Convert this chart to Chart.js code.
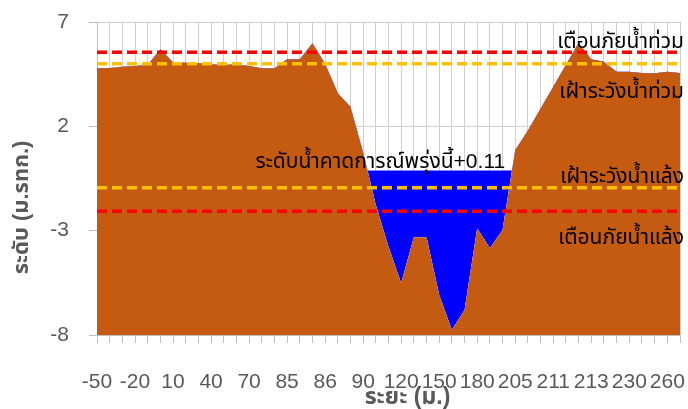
<!DOCTYPE html>
<html><head><meta charset="utf-8">
<script src="https://cdn.jsdelivr.net/npm/chart.js@4/dist/chart.umd.min.js"></script>
<style>html,body{margin:0;padding:0;background:#fff}#wrap{width:688px;height:409px}</style>
</head><body><div id="wrap"><canvas id="c" width="688" height="409"></canvas></div>
<script>
// ---- data ----
const distances = [-50,-40,-30,-20,-10,0,10,20,30,40,50,60,70,75,80,85,85.3,85.6,86,87,88,90,100,110,120,130,140,150,160,170,180,190,200,205,207,209,211,211.5,212,213,220,225,230,240,250,260,270];
const groundLevel = [4.78,4.79,4.86,4.89,4.95,5.69,5.07,5.05,5.02,4.97,4.94,4.97,4.89,4.78,4.78,5.21,5.21,5.98,5.0,3.58,2.94,0.75,-1.77,-3.77,-5.52,-3.32,-3.32,-6.08,-7.76,-6.8,-2.89,-3.84,-2.97,0.87,1.8,2.85,3.9,4.95,6.0,5.21,5.1,4.62,4.62,4.55,4.54,4.62,4.55];
const forecastWaterLevel = -0.12;
const floodWarning = 5.55;
const floodWatch = 5.0;
const droughtWatch = -0.94;
const droughtWarning = -2.07;
const yTicks = [-8,-3,2,7];
const labelEvery = 3;
const textFloodWarning = 'เตือนภัยน้ำท่วม';
const textFloodWatch = 'เฝ้าระวังน้ำท่วม';
const textDroughtWatch = 'เฝ้าระวังน้ำแล้ง';
const textDroughtWarning = 'เตือนภัยน้ำแล้ง';
const textForecast = 'ระดับน้ำคาดการณ์พรุ่งนี้+0.11';
const xTitle = 'ระยะ (ม.)';
const yTitle = 'ระดับ (ม.รทก.)';

const FONT = "'Liberation Sans', Arial, 'Noto Sans Thai', 'Noto Sans', sans-serif";
const flat = v => distances.map(() => v);

const textPlugin = {
  id: 'texts',
  afterDatasetsDraw(chart) {
    const ctx = chart.ctx, ca = chart.chartArea;
    const y = chart.scales.y, x = chart.scales.x;
    ctx.save();
    ctx.fillStyle = '#000';
    ctx.font = '21px ' + FONT;
    ctx.textAlign = 'right';
    ctx.textBaseline = 'middle';
    const rx = ca.right + 4;
    ctx.fillText(textFloodWarning, rx, y.getPixelForValue(floodWarning) - 10);
    ctx.fillText(textFloodWatch, rx, y.getPixelForValue(floodWatch) + 28);
    ctx.fillText(textDroughtWatch, rx, y.getPixelForValue(droughtWatch) - 10);
    ctx.fillText(textDroughtWarning, rx, y.getPixelForValue(droughtWarning) + 27);
    ctx.textAlign = 'left';
    ctx.fillText(textForecast, x.getPixelForValue(12.5), y.getPixelForValue(forecastWaterLevel) - 8);
    // axis titles
    ctx.fillStyle = '#595959';
    ctx.font = 'bold 23px ' + FONT;
    ctx.textAlign = 'center';
    ctx.fillText(xTitle, (ca.left + ca.right) / 2 + 19, 398);
    ctx.font = 'bold 22px ' + FONT;
    ctx.translate(22, (ca.top + ca.bottom) / 2 + 29);
    ctx.rotate(-Math.PI / 2);
    ctx.fillText(yTitle, 0, 0);
    ctx.restore();
  }
};

const refLine = (label, v, color) => ({
  label, data: flat(v), borderColor: color, borderWidth: 3.5, borderDash: [10, 5],
  pointRadius: 0, fill: false, order: 0, tension: 0
});

new Chart(document.getElementById('c'), {
  type: 'line',
  data: {
    labels: distances,
    datasets: [
      refLine('เตือนภัยน้ำท่วม', floodWarning, '#FF0000'),
      refLine('เฝ้าระวังน้ำท่วม', floodWatch, '#FFC000'),
      refLine('เฝ้าระวังน้ำแล้ง', droughtWatch, '#FFC000'),
      refLine('เตือนภัยน้ำแล้ง', droughtWarning, '#FF0000'),
      { label: 'water', data: flat(forecastWaterLevel), borderWidth: 0, borderColor: 'rgba(0,0,0,0)',
        pointRadius: 0, order: 1, tension: 0,
        fill: { target: 5, above: '#0000FF', below: 'rgba(0,0,0,0)' } },
      { label: 'ground', data: groundLevel, borderWidth: 0, borderColor: '#C55A11',
        backgroundColor: '#C55A11', pointRadius: 0, order: 2, tension: 0, fill: 'start' }
    ]
  },
  options: {
    responsive: false, animation: false, devicePixelRatio: 1,
    layout: { padding: { top: 22, right: 8, left: 0, bottom: 0 } },
    plugins: { legend: { display: false }, tooltip: { enabled: false } },
    scales: {
      x: {
        type: 'category', offset: false,
        grid: { display: true, drawOnChartArea: true, drawTicks: true, color: '#D0D0D0', lineWidth: 1, tickColor: '#BFBFBF', tickLength: 8, offset: false },
        border: { color: '#BFBFBF' },
        ticks: {
          autoSkip: false, maxRotation: 0, minRotation: 0, padding: 27,
          color: '#595959', font: { family: FONT, size: 21 },
          callback: (v, i) => (i % labelEvery === 0 ? String(distances[i]) : '')
        },
        afterFit: s => { s.height = 74; s.paddingLeft = 0; s.paddingRight = 0; }
      },
      y: {
        min: -8, max: 7,
        afterBuildTicks: s => { s.ticks = yTicks.map(v => ({ value: v })); },
        grid: { color: '#D0D0D0', tickColor: '#BFBFBF', tickLength: 8 },
        border: { color: '#BFBFBF' },
        ticks: { color: '#595959', font: { family: FONT, size: 21 }, padding: 20 },
        afterFit: s => { s.width = 97; s.paddingTop = 0; s.paddingBottom = 0; }
      }
    }
  },
  plugins: [textPlugin]
});
</script></body></html>
